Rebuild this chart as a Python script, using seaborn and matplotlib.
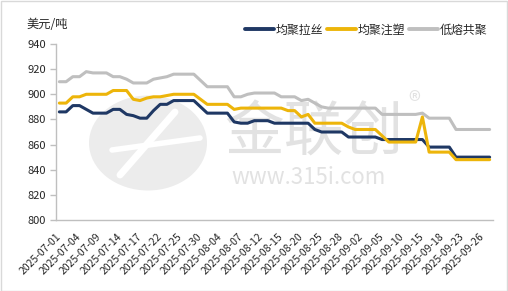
import numpy as np
import pandas as pd
import matplotlib
matplotlib.use("Agg")
import matplotlib.pyplot as plt
from matplotlib.patches import Ellipse
from matplotlib.lines import Line2D
from matplotlib.ticker import FixedLocator, NullFormatter
import seaborn as sns

# ---- data ----
dates = [d.strftime("%Y-%m-%d") for d in pd.bdate_range("2025-07-01", "2025-09-29")]

homo_raffia = [886, 886, 891, 891, 888, 885, 885, 885, 888, 888,
               884, 883, 881, 881, 887, 892, 892, 895, 895, 895,
               895, 890, 885, 885, 885, 885, 878, 877, 877, 879,
               879, 879, 877, 877, 877, 877, 877, 877, 872, 870,
               870, 870, 870, 866, 866, 866, 866, 866, 864, 864,
               864, 864, 864, 864, 864, 858, 858, 858, 858, 850,
               850, 850, 850, 850, 850]

homo_injection = [893, 893, 898, 898, 900, 900, 900, 900, 903, 903,
                  903, 896, 895, 897, 898, 898, 899, 900, 900, 900,
                  900, 896, 892, 892, 892, 892, 888, 889, 889, 889,
                  889, 889, 889, 889, 887, 887, 882, 884, 877, 877,
                  877, 877, 877, 874, 872, 872, 872, 872, 867, 862,
                  862, 862, 862, 862, 882, 854, 854, 854, 854, 848,
                  848, 848, 848, 848, 848]

low_melt_copo = [910, 910, 914, 914, 918, 917, 917, 917, 914, 914,
                 912, 909, 909, 909, 912, 913, 914, 916, 916, 916,
                 916, 911, 906, 906, 906, 906, 898, 898, 900, 901,
                 901, 901, 901, 898, 898, 898, 895, 896, 893, 890,
                 889, 889, 889, 889, 889, 889, 889, 889, 884, 884,
                 884, 884, 884, 884, 885, 881, 881, 881, 881, 872,
                 872, 872, 872, 872, 872]

series_names = ["均聚拉丝", "均聚注塑", "低熔共聚"]
series_colors = ["#1F3864", "#EDB50A", "#BFBFBF"]
y_ticks = [800, 820, 840, 860, 880, 900, 920, 940]
y_unit = "美元/吨"

# ---- build table ----
idx = np.arange(len(dates))
df = pd.concat([
    pd.DataFrame({"idx": idx, "price": vals, "series": name})
    for name, vals in zip(series_names, [homo_raffia, homo_injection, low_melt_copo])
])

sns.set_theme(style="white")
plt.rcParams["font.family"] = ["Noto Sans CJK SC", "DejaVu Sans"]
plt.rcParams["axes.unicode_minus"] = False

W, H = 508, 291
fig = plt.figure(figsize=(W / 100, H / 100), dpi=100)
fig.patch.set_facecolor("white")

ax = fig.add_axes([56 / W, 1 - 220 / H, (493 - 56) / W, (220 - 44) / H])
ax.set_facecolor("none")

# watermark (decoration, behind the lines)
ft = fig.transFigure
ax.add_patch(Ellipse((148 / W, 1 - 143 / H), 118 / W, 95 / H, transform=ft,
                     facecolor="#ECECEC", edgecolor="none", zorder=0,
                     clip_on=False))
ax.add_line(Line2D([120 / W, 175 / W], [1 - 175 / H, 1 - 112 / H],
                   transform=ft, color="white", linewidth=5, zorder=0.5,
                   clip_on=False))
ax.add_line(Line2D([112 / W, 200 / W], [1 - 150 / H, 1 - 138 / H],
                   transform=ft, color="white", linewidth=4, zorder=0.5,
                   clip_on=False))
wm = "#E2E2E2"
ax.text(314 / W, 1 - 134 / H, "金联创", transform=ft, fontsize=43, color=wm,
        ha="center", va="center", zorder=0)
ax.text(309 / W, 1 - 178 / H, "www.315i.com", transform=ft, fontsize=16,
        color=wm, ha="center", va="center", zorder=0)
ax.text(414 / W, 1 - 103 / H, "®", transform=ft, fontsize=18, color=wm,
        ha="center", va="center", zorder=0)

sns.lineplot(data=df, x="idx", y="price", hue="series", hue_order=series_names,
             palette=series_colors, linewidth=2.2, ax=ax, legend=False, zorder=3)

ax.set_xlim(-0.5, len(dates) - 0.5)
ax.set_ylim(y_ticks[0], y_ticks[-1])
ax.set_yticks(y_ticks)
ax.set_yticklabels([str(v) for v in y_ticks], fontsize=8)

lab_pos = idx[::3]
ax.set_xticks(lab_pos)
ax.set_xticklabels([dates[i] for i in lab_pos], rotation=45, ha="right",
                   va="center", rotation_mode="anchor", fontsize=7.5)
ax.tick_params(axis="x", which="major", length=0, pad=11)
ax.xaxis.set_minor_locator(FixedLocator(np.arange(-0.5, len(dates), 8)))
ax.xaxis.set_minor_formatter(NullFormatter())
ax.tick_params(axis="x", which="minor", direction="in", length=4,
               color="#BFBFBF", width=1)
ax.tick_params(axis="y", direction="out", length=4, color="#BFBFBF",
               width=1, pad=3, left=True)
ax.set_xlabel("")
ax.set_ylabel("")
for s in ["top", "right"]:
    ax.spines[s].set_visible(False)
for s in ["left", "bottom"]:
    ax.spines[s].set_color("#BFBFBF")
    ax.spines[s].set_linewidth(1)

fig.text(26 / W, 1 - 25 / H, y_unit, fontsize=8.8, ha="left", va="center")

handles = [Line2D([], [], color=c, linewidth=2.8) for c in series_colors]
fig.legend(handles, series_names, loc="center", ncol=3,
           bbox_to_anchor=(366 / W, 1 - 30 / H), frameon=False, fontsize=8.6,
           handlelength=2.4, handletextpad=0.15, columnspacing=0.35)

# chart-area border
fig.add_artist(plt.Rectangle((0.5 / W, 0.5 / H), 1 - 1.5 / W, 1 - 1.5 / H,
                             transform=ft, fill=False, edgecolor="#D9D9D9",
                             linewidth=1.0))

fig.savefig("out.png", dpi=100, facecolor="white")
